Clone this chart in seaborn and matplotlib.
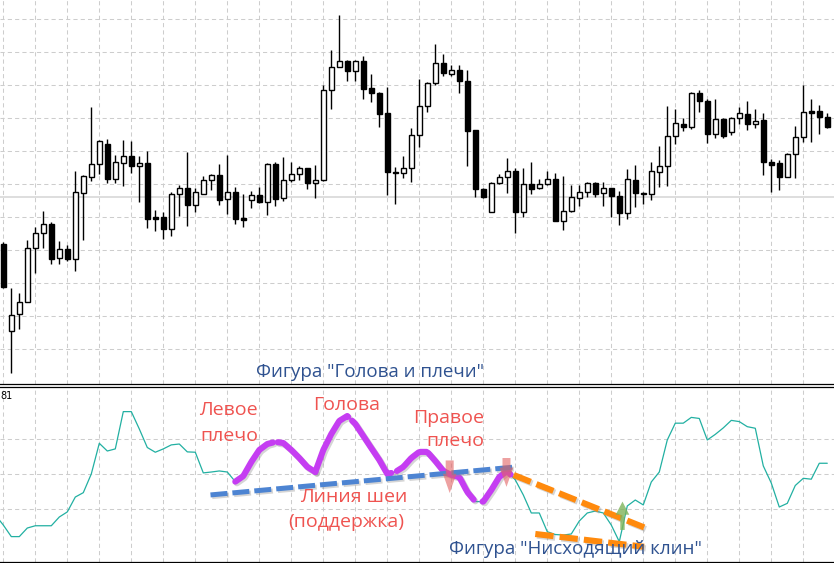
import numpy as np
import pandas as pd
import matplotlib
matplotlib.use("Agg")
import matplotlib.pyplot as plt
import matplotlib.patheffects as pe
import seaborn as sns

# ---------------- data: candles (price units) ----------------
opens = [156, 69, 86, 98, 152, 167, 176, 142, 151, 141, 207, 223, 236, 256, 221, 237, 244, 234, 237, 183,
         183, 171, 206, 212, 195, 206, 220, 225, 201, 208, 182, 200, 205, 198, 236, 202, 220, 226, 232, 217,
         220, 310, 333, 339, 329, 339, 312, 307, 287, 228, 227, 232, 265, 294, 317, 337, 326, 330, 319, 270,
         211, 188, 217, 223, 229, 188, 216, 212, 216, 221, 179, 189, 202, 208, 217, 207, 212, 204, 187, 220,
         206, 206, 228, 234, 264, 276, 273, 307, 299, 266, 281, 268, 282, 286, 276, 280, 238, 237, 223, 246,
         263, 289, 289, 283]
highs = [158, 112, 107, 160, 173, 189, 178, 159, 155, 229, 225, 293, 260, 261, 245, 260, 259, 244, 249, 190,
         188, 208, 215, 248, 212, 224, 226, 236, 245, 213, 206, 209, 213, 237, 238, 243, 238, 234, 232, 235,
         315, 350, 385, 340, 340, 344, 326, 308, 313, 233, 244, 272, 321, 318, 356, 346, 335, 335, 330, 270,
         212, 218, 226, 242, 232, 232, 238, 221, 229, 227, 224, 215, 215, 218, 218, 218, 212, 209, 231, 235,
         208, 238, 254, 294, 291, 282, 308, 310, 301, 301, 282, 283, 293, 299, 291, 287, 241, 240, 247, 274,
         315, 301, 295, 287]
lows = [112, 27, 71, 98, 127, 152, 136, 136, 139, 129, 160, 219, 226, 217, 217, 214, 227, 198, 172, 169,
        161, 164, 184, 174, 188, 206, 210, 195, 186, 176, 173, 192, 197, 185, 194, 199, 218, 220, 211, 202,
        219, 291, 333, 319, 319, 301, 298, 273, 205, 196, 222, 218, 253, 288, 315, 324, 324, 307, 234, 203,
        202, 188, 216, 207, 167, 183, 206, 211, 215, 179, 170, 188, 194, 203, 203, 194, 183, 175, 181, 193,
        196, 200, 213, 214, 256, 269, 271, 288, 257, 262, 262, 265, 276, 270, 272, 225, 208, 210, 223, 222,
        258, 258, 266, 272]
closes = [113, 85, 98, 152, 167, 176, 141, 151, 141, 208, 224, 236, 259, 221, 238, 244, 234, 237, 181, 181,
          171, 206, 212, 195, 208, 220, 225, 200, 208, 181, 180, 205, 198, 236, 201, 220, 226, 232, 217, 220,
          310, 333, 339, 329, 339, 311, 307, 286, 228, 227, 232, 265, 294, 317, 337, 327, 330, 319, 269, 211,
          203, 217, 223, 229, 188, 216, 211, 216, 221, 179, 189, 203, 208, 217, 206, 212, 204, 187, 221, 207,
          207, 229, 234, 264, 277, 273, 307, 299, 266, 281, 264, 282, 287, 276, 279, 238, 235, 223, 246, 263,
          288, 287, 283, 273]
current_price = 203

# ---------------- data: oscillator ----------------
osc_index = list(range(-1, 104))
osc_values = [26.9, 21.1, 14.5, 14.5, 19.4, 20.7, 20.7, 20.7, 25.7, 28.6, 37.1,
              39.6, 50.3, 67.8, 63.4, 64.6, 85.9, 85.9, 76.0, 65.4, 62.7,
              64.6, 66.9, 67.4, 62.9, 62.7, 50.9, 51.4, 52.0, 51.4, 45.9,
              49.1, 57.1, 64.0, 67.4, 68.6, 68.0, 64.0, 59.4, 54.3, 51.4,
              64.0, 73.1, 80.6, 83.4, 78.9, 72.0, 65.1, 58.3, 50.3, 51.4,
              54.3, 59.4, 62.9, 62.9, 57.7, 52.0, 49.7, 48.6, 40.0, 34.5,
              34.5, 41.1, 48.6, 52.0, 46.9, 38.3, 28.0, 28.0, 17.3, 15.7,
              15.4, 16.0, 23.4, 28.0, 29.1, 28.0, 21.1, 11.6, 32.0, 35.4,
              32.6, 45.7, 51.4, 69.7, 79.3, 79.3, 82.6, 82.0, 69.7, 72.9,
              76.6, 80.9, 80.2, 77.3, 76.4, 54.9, 45.1, 31.4, 33.5, 43.7,
              47.8, 47.3, 56.4, 56.4]

# annotation geometry (index, oscillator units)
purple_spans = [(29.0, 33.7), (34.3, 39.0), (39.0, 43.1), (43.6, 48.5), (49.2, 58.8), (59.9, 63.4)]
neck_x, neck_y = [25.9, 63.6], [38.3, 54.1]
wedge1_x, wedge1_y = [63.8, 80.3], [49.7, 19.4]
wedge2_x, wedge2_y = [66.5, 80.1], [16.0, 8.7]
red_arrows = [(55.8, 58.0, 39.4), (62.9, 59.4, 42.9)]
green_arrow = (77.4, 18.3, 34.5)

# ---------------- style ----------------
sns.set_theme(style="white")
plt.rcParams["font.family"] = ["Open Sans", "DejaVu Sans"]

fig = plt.figure(figsize=(8.34, 5.63), dpi=100)
ax1 = fig.add_axes([0, 0.3174, 1, 0.6826])
ax2 = fig.add_axes([0, 0.0018, 1, 0.3103])

grid_kw = dict(color="#cdcdcd", lw=0.75, linestyle=(0, (4, 3)))
for ax in (ax1, ax2):
    ax.set_xlim(-0.4125, 103.84)
    ax.set_xticks(np.arange(0, 104, 4))
    ax.tick_params(length=0, labelbottom=False, labelleft=False)
    ax.grid(True, **grid_kw)
    ax.set_axisbelow(True)
    for s in ax.spines.values():
        s.set_visible(False)

# ---------------- top: candles ----------------
df = pd.DataFrame({"x": np.arange(len(opens)), "open": opens, "high": highs,
                   "low": lows, "close": closes})
bear = df["close"] < df["open"]
ax1.set_ylim(15.7, 400)
ax1.set_yticks(np.arange(51, 400, 33))
ax1.axhline(current_price, color="#d4d4d4", lw=1.1, zorder=1)
ax1.vlines(df["x"], df["low"], df["high"], color="black", lw=1.0, zorder=2)
ax1.bar(df["x"], df["close"] - df["open"], bottom=df["open"], width=0.6,
        color=np.where(bear, "black", "white"), edgecolor="black", linewidth=1.0, zorder=3)
ax1.spines["bottom"].set_visible(True)
ax1.spines["bottom"].set_color("black")
ax1.spines["bottom"].set_linewidth(0.9)
ax1.text(45.8, 28, "Фигура \"Голова и плечи\"", color="#2f5290", fontsize=13.5,
         ha="center", va="center", zorder=5)

# ---------------- bottom: oscillator ----------------
ax2.set_ylim(0, 99.8)
ax2.set_yticks([30, 50, 70])
ax2.spines["top"].set_visible(True)
ax2.spines["bottom"].set_visible(True)
for s in ("top", "bottom"):
    ax2.spines[s].set_color("black")
    ax2.spines[s].set_linewidth(0.9)

sns.lineplot(x=osc_index, y=osc_values, ax=ax2, color="#22b0a2", lw=0.9, estimator=None, zorder=3)

shadow = [pe.SimpleLineShadow(offset=(1.2, -1.2), shadow_color="#888888", alpha=0.35), pe.Normal()]
for a, b in purple_spans:
    xs = np.linspace(a, b, 40)
    ys = np.interp(xs, osc_index, osc_values)
    ax2.plot(xs, ys, color="#c53df2", lw=4.4, solid_capstyle="round", zorder=4, path_effects=shadow)

ax2.plot(neck_x, neck_y, color="#4d84d2", lw=3.6, linestyle=(0, (3.4, 1.0)),
         dash_capstyle="butt", zorder=5, path_effects=shadow)
ax2.plot(wedge1_x, wedge1_y, color="#ff8a0d", lw=4.4, linestyle=(0, (3.0, 1.0)),
         dash_capstyle="butt", zorder=5, path_effects=shadow)
ax2.plot(wedge2_x, wedge2_y, color="#ff8a0d", lw=4.4, linestyle=(0, (3.0, 1.0)),
         dash_capstyle="butt", zorder=5, path_effects=shadow)

for x, y0, y1 in red_arrows:
    ax2.arrow(x, y0, 0, y1 - y0, width=1.0, head_width=1.7, head_length=11.0,
              length_includes_head=True, color="#e26262", alpha=0.6, lw=0, zorder=6)
gx, gy0, gy1 = green_arrow
ax2.arrow(gx, gy0, 0, gy1 - gy0, width=0.55, head_width=1.7, head_length=7.5,
          length_includes_head=True, color="#7db35a", alpha=0.8, lw=0, zorder=6)

red = "#ef5350"
ax2.text(28.1, 86.9, "Левое", color=red, fontsize=14, ha="center", va="center", zorder=7)
ax2.text(28.3, 72.0, "плечо", color=red, fontsize=14, ha="center", va="center", zorder=7)
ax2.text(42.9, 89.7, "Голова", color=red, fontsize=14, ha="center", va="center", zorder=7)
ax2.text(60.1, 82.3, "Правое", color=red, fontsize=14, ha="right", va="center", zorder=7)
ax2.text(60.1, 68.9, "плечо", color=red, fontsize=14, ha="right", va="center", zorder=7)
ax2.text(43.8, 37.1, "Линия шеи", color=red, fontsize=14, ha="center", va="center", zorder=7)
ax2.text(42.9, 22.6, "(поддержка)", color=red, fontsize=14, ha="center", va="center", zorder=7)
ax2.text(71.5, 7.4, "Фигура \"Нисходящий клин\"", color="#2f5290", fontsize=13.5,
         ha="center", va="center", zorder=7)
ax2.text(0.001, 0.95, "81", transform=ax2.transAxes, fontsize=7, color="black",
         ha="left", va="center", family="DejaVu Sans", zorder=7)

fig.savefig("out.png", dpi=100)
